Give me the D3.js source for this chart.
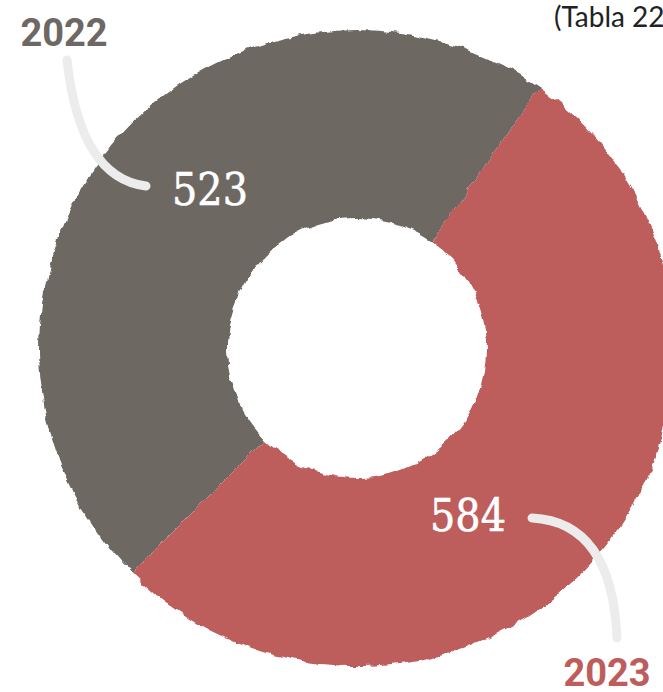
<!DOCTYPE html>
<html>
<head>
<meta charset="utf-8">
<script src="https://cdn.jsdelivr.net/npm/d3@7"></script>
<style>
  html, body { margin: 0; padding: 0; background: #fff; overflow: hidden; }
  svg { display: block; }
</style>
</head>
<body>
<svg id="chart" width="663" height="692"></svg>
<script>
// Annual totals
const years = ["2022", "2023"];
const totals = [523, 584];
const colors = ["#6e6763", "#bd5d5c"];
const note = "(Tabla 22)";

const svg = d3.select("#chart");
const cx = 357, cy = 348;
const outerR = 318, innerR = 130;

// Rough, hand-printed edge for the ring
const defs = svg.append("defs");
const f = defs.append("filter").attr("id", "rough")
  .attr("x", "-5%").attr("y", "-5%").attr("width", "110%").attr("height", "110%");
f.append("feTurbulence").attr("type", "fractalNoise")
  .attr("baseFrequency", 0.06).attr("numOctaves", 3).attr("seed", 7).attr("result", "noise");
f.append("feDisplacementMap").attr("in", "SourceGraphic").attr("in2", "noise")
  .attr("scale", 8).attr("xChannelSelector", "R").attr("yChannelSelector", "G");

const deg = Math.PI / 180;
const pie = d3.pie().sort(null).value(d => d)
  .startAngle(225 * deg).endAngle(585 * deg);
const arcs = pie(totals);
const arc = d3.arc().innerRadius(innerR).outerRadius(outerR);

const ring = svg.append("g")
  .attr("transform", `translate(${cx},${cy})`)
  .attr("filter", "url(#rough)");
ring.selectAll("path").data(arcs).join("path")
  .attr("d", arc)
  .attr("fill", (d, i) => colors[i]);

// Leader curves from year label to value
const leaders = [
  "M67,60 Q80,178 146,186",
  "M532,518 Q612,522 617,638"
];
svg.selectAll("path.leader").data(leaders).join("path")
  .attr("class", "leader")
  .attr("d", d => d)
  .attr("fill", "none")
  .attr("stroke", "#ececec")
  .attr("stroke-width", 9)
  .attr("stroke-linecap", "round");

// Value labels inside the ring
const valuePos = [[210, 205], [468, 531]];
svg.selectAll("text.value").data(totals).join("text")
  .attr("class", "value")
  .attr("x", (d, i) => valuePos[i][0])
  .attr("y", (d, i) => valuePos[i][1])
  .attr("text-anchor", "middle")
  .attr("font-family", "'DejaVu Serif', serif")
  .attr("font-size", 45)
  .attr("textLength", 76)
  .attr("lengthAdjust", "spacingAndGlyphs")
  .attr("fill", "#ffffff")
  .attr("stroke", "#ffffff")
  .attr("stroke-width", 0.6)
  .text(d => d);

// Year labels
const yearPos = [[64, 46], [607, 686]];
svg.selectAll("text.year").data(years).join("text")
  .attr("class", "year")
  .attr("x", (d, i) => yearPos[i][0])
  .attr("y", (d, i) => yearPos[i][1])
  .attr("text-anchor", "middle")
  .attr("font-family", "Roboto, sans-serif")
  .attr("font-weight", "bold")
  .attr("font-size", 38)
  .attr("fill", (d, i) => colors[i])
  .text(d => d);

// Source note, running off the right edge
svg.append("text")
  .attr("x", 554).attr("y", 27)
  .attr("font-family", "Lato, sans-serif")
  .attr("font-size", 28)
  .attr("fill", "#222")
  .text(note);
</script>
</body>
</html>
